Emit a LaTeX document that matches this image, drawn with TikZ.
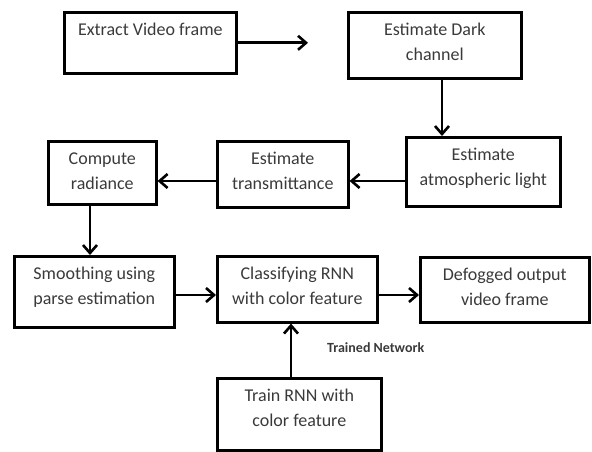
\documentclass[tikz,border=0pt]{standalone}
\usepackage{fontspec}
\setmainfont{Carlito}
\usetikzlibrary{arrows.meta}

\definecolor{inkgray}{HTML}{3A3A3A}

\tikzset{
  framebox/.style={draw=black, line width=2.6pt, rectangle, inner sep=0pt, anchor=north west},
  boxtext/.style={anchor=north, inner sep=0pt, align=center, text=inkgray,
                  font=\fontsize{18}{25}\selectfont, yshift=-10pt},
  arr/.style={draw=black, line width=2.6pt,
              -{Straight Barb[length=8pt,width=14pt]}},
  smalltext/.style={anchor=west, inner sep=0pt, text=inkgray,
                    font=\fontsize{14}{16}\selectfont\bfseries}
}

% first-line strut so every label starts at the same baseline
\newcommand{\fl}{\rule{0pt}{14pt}}

\begin{document}
\begin{tikzpicture}[x=1pt, y=-1pt]
  \useasboundingbox (0,0) rectangle (592,452);

  % process boxes
  \node[framebox, minimum width=172pt, minimum height=61pt] (b1) at (63,11) {};
  \node[framebox, minimum width=173pt, minimum height=66pt] (b2) at (347,11) {};
  \node[framebox, minimum width=154pt, minimum height=69pt] (b3) at (405,136) {};
  \node[framebox, minimum width=131pt, minimum height=66pt] (b4) at (216,140) {};
  \node[framebox, minimum width=108pt, minimum height=63pt] (b5) at (47,140) {};
  \node[framebox, minimum width=160pt, minimum height=71pt] (b6) at (13,255) {};
  \node[framebox, minimum width=160pt, minimum height=66pt] (b7) at (216,255) {};
  \node[framebox, minimum width=169pt, minimum height=65pt] (b8) at (419,256) {};
  \node[framebox, minimum width=164pt, minimum height=72pt] (b9) at (216,377) {};

  % box labels
  \node[boxtext] (t1) at (b1.north) {\fl Extract Video frame};
  \node[boxtext] (t2) at (b2.north) {\fl Estimate Dark\\channel};
  \node[boxtext] (t3) at (b3.north) {\fl Estimate\\atmospheric light};
  \node[boxtext] (t4) at (b4.north) {\fl Estimate\\transmittance};
  \node[boxtext] (t5) at (b5.north) {\fl Compute\\radiance};
  \node[boxtext] (t6) at (b6.north) {\fl Smoothing using\\parse estimation};
  \node[boxtext] (t7) at (b7.north) {\fl Classifying RNN\\with color feature};
  \node[boxtext] (t8) at (b8.north) {\fl Defogged output\\video frame};
  \node[boxtext] (t9) at (b9.north) {\fl Train RNN with\\color feature};

  \node[smalltext] (tn) at (327,348) {Trained Network};

  % connector guides
  \coordinate (e1) at (308,0);
  \coordinate (c2) at (442,0);
  \coordinate (r1) at (0,181);
  \coordinate (c5) at (90,0);
  \coordinate (r2) at (0,295);
  \coordinate (c9) at (291,0);

  % connectors
  \draw[arr] (b1.east) -- (b1.east -| e1);
  \draw[arr] (b2.south -| c2) -- (b3.north -| c2);
  \draw[arr] (b3.west |- r1) -- (b4.east |- r1);
  \draw[arr] (b4.west |- r1) -- (b5.east |- r1);
  \draw[arr] (b5.south -| c5) -- (b6.north -| c5);
  \draw[arr] (b6.east |- r2) -- (b7.west |- r2);
  \draw[arr] (b7.east |- r2) -- (b8.west |- r2);
  \draw[arr] (b9.north -| c9) -- (b7.south -| c9);
\end{tikzpicture}
\end{document}
